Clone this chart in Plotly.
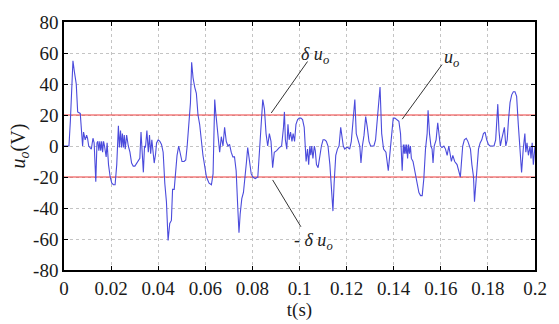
import plotly.graph_objects as go

# Output voltage trace u_o(t)
t_s = [
    0, 0.0015, 0.0021, 0.0027, 0.0033, 0.0038, 0.0044, 0.0052, 0.0058, 0.0069,
    0.0079, 0.0083, 0.009, 0.0096, 0.01, 0.0105, 0.0116, 0.0123, 0.0128, 0.0135,
    0.014, 0.0144, 0.0148, 0.0152, 0.0156, 0.016, 0.0164, 0.0168, 0.0172, 0.0179,
    0.0183, 0.0189, 0.0196, 0.0203, 0.021, 0.0217, 0.0224, 0.0231, 0.0235, 0.024,
    0.0244, 0.0248, 0.0252, 0.0256, 0.026, 0.0266, 0.0273, 0.028, 0.0287, 0.0294,
    0.0301, 0.0308, 0.0315, 0.0322, 0.0327, 0.0331, 0.0337, 0.0342, 0.0346, 0.0352,
    0.0358, 0.0363, 0.0368, 0.0373, 0.0379, 0.0383, 0.0389, 0.0393, 0.04, 0.0407,
    0.0414, 0.0421, 0.0428, 0.0435, 0.0442, 0.0449, 0.0456, 0.0461, 0.0468, 0.0473,
    0.048, 0.0487, 0.0494, 0.0501, 0.051, 0.0517, 0.0523, 0.053, 0.0537, 0.0542,
    0.0548, 0.0555, 0.0562, 0.0569, 0.0576, 0.059, 0.0605, 0.0616, 0.0626, 0.0633,
    0.064, 0.0644, 0.0654, 0.0661, 0.0668, 0.0675, 0.0682, 0.0689, 0.0696, 0.0703,
    0.071, 0.0717, 0.0724, 0.0731, 0.0738, 0.0743, 0.0748, 0.0755, 0.0762, 0.077,
    0.0775, 0.078, 0.0787, 0.0795, 0.0802, 0.0812, 0.0823, 0.083, 0.0837, 0.0844,
    0.0851, 0.0858, 0.0865, 0.0872, 0.0879, 0.0886, 0.0893, 0.0903, 0.0914, 0.0924,
    0.0932, 0.0936, 0.094, 0.0946, 0.0951, 0.0956, 0.0962, 0.0968, 0.0973, 0.0979,
    0.0985, 0.0992, 0.0999, 0.1006, 0.1013, 0.102, 0.1028, 0.1034, 0.1039, 0.1044,
    0.1048, 0.1052, 0.1057, 0.1063, 0.1067, 0.1072, 0.1079, 0.1086, 0.1093, 0.11,
    0.1107, 0.1114, 0.1121, 0.1129, 0.1136, 0.1142, 0.1147, 0.1154, 0.1161, 0.1168,
    0.1175, 0.1182, 0.1186, 0.1192, 0.1199, 0.1206, 0.1213, 0.122, 0.1228, 0.1235,
    0.1241, 0.1249, 0.1256, 0.1261, 0.1267, 0.1274, 0.1281, 0.1288, 0.1295, 0.1302,
    0.1316, 0.1323, 0.1333, 0.1342, 0.1349, 0.1357, 0.1367, 0.1373, 0.1377, 0.1382,
    0.139, 0.1398, 0.1405, 0.1415, 0.1422, 0.1429, 0.1436, 0.1441, 0.1445, 0.1448,
    0.1452, 0.1455, 0.1459, 0.1463, 0.1467, 0.1471, 0.1475, 0.1482, 0.1493, 0.15,
    0.1507, 0.1514, 0.1521, 0.1528, 0.1535, 0.1542, 0.1546, 0.1552, 0.1558, 0.1563,
    0.1567, 0.1572, 0.158, 0.1587, 0.1592, 0.1598, 0.1605, 0.1613, 0.162, 0.1627,
    0.1634, 0.1641, 0.1645, 0.1651, 0.1659, 0.1669, 0.1676, 0.1683, 0.1687, 0.1693,
    0.17, 0.1708, 0.1715, 0.1721, 0.1726, 0.1732, 0.1739, 0.1743, 0.1749, 0.1755,
    0.176, 0.1767, 0.1774, 0.1781, 0.1788, 0.1795, 0.1802, 0.1809, 0.1819, 0.1826,
    0.1833, 0.1838, 0.1842, 0.1847, 0.1853, 0.1858, 0.1864, 0.187, 0.1876, 0.1882,
    0.1887, 0.1894, 0.1901, 0.1908, 0.1915, 0.1922, 0.1929, 0.1936, 0.1943, 0.195,
    0.1957, 0.1961, 0.1966, 0.1972, 0.1979, 0.1983, 0.1988, 0.1993, 0.2,
]
u_o = [
    0, 0, 0, 16, 42, 55, 48, 40, 22, 21,
    0, 9, 4, 7, 5, 0, -2, 5, 2, -23,
    2, 3, -3, 3, -3, 3, -4, 3, 0, -7,
    2, -12, -20, -24, -25, -25, -12, 13, -1, 10,
    -1, 8, -1, 7, -2, 7, 0, -4, -11, -13,
    -13, -11, -10, -8, 9, 0, -17, 0, -1, 10,
    -4, 7, -5, 4, -6, -11, -5, 2, 4, 3,
    1, -4, -24, -36, -61, -50, -48, -28, -28, -16,
    -6, 0, -6, -10, -10, -9, 0, 14, 28, 54,
    44, 38, 34, 20, 14, -6, -20, -24, -25, -18,
    30, 22, 6, -4, 6, 0, 12, 3, 0, 1,
    -4, -7, -7, -16, -40, -56, -44, -34, -30, -14,
    -10, -1, -10, -18, -20, -21, -20, -2, 18, 30,
    24, 8, 0, 8, 3, -14, -4, -3, -1, 0,
    12, 22, 4, -2, 14, 4, 9, 3, 8, 3,
    14, 17, 18, 18, 17, 12, -10, -2, -12, 0,
    -6, 0, -8, 0, -3, -12, -14, -6, 0, 4,
    4, 3, 0, -12, -32, -42, -24, -6, -2, 0,
    12, 6, 0, -2, -1, -1, -2, 3, 18, 30,
    8, 3, 0, -11, 0, 7, 19, 12, 3, 0,
    0, 4, 20, 38, 8, -2, -4, -12, -16, -8,
    8, 18, 18, 17, 16, 8, -16, 1, -5, 1,
    -5, 1, -8, 1, -5, 0, -8, -10, -18, -24,
    -30, -32, -32, -21, -2, 8, 23, 8, 0, -2,
    -11, 0, 4, 15, 8, 0, -1, 0, -2, -6,
    0, -6, -10, -6, -10, -12, -16, -20, -12, 0,
    4, 5, 3, 0, -2, -12, -20, -36, -24, -6,
    -2, 2, 4, 8, 9, 4, 1, 0, 0, 0,
    4, 16, 27, 10, 0, 4, 8, 12, 0, 4,
    16, 28, 33, 35, 35, 32, 14, 0, -17, -2,
    8, -4, 2, -6, 0, -8, 2, -12, 0,
]

# Tolerance band +/- delta
delta = 20

x_ticks = [0, 0.02, 0.04, 0.06, 0.08, 0.1, 0.12, 0.14, 0.16, 0.18, 0.2]
x_labels = ["0", "0.02", "0.04", "0.06", "0.08", "0.1", "0.12", "0.14", "0.16", "0.18", "0.2"]
y_ticks = [-80, -60, -40, -20, 0, 20, 40, 60, 80]
y_labels = ["-80", "-60", "-40", "-20", "0", "20", "40", "60", "80"]

FONT = "Liberation Serif"

fig = go.Figure()

fig.add_trace(go.Scatter(
    x=[0, 0.2], y=[delta, delta], mode="lines",
    line=dict(color="#f03c3c", width=1.2), showlegend=False, hoverinfo="skip"))
fig.add_trace(go.Scatter(
    x=[0, 0.2], y=[-delta, -delta], mode="lines",
    line=dict(color="#f03c3c", width=1.2), showlegend=False, hoverinfo="skip"))
fig.add_trace(go.Scatter(
    x=t_s, y=u_o, mode="lines",
    line=dict(color="#4b4bdc", width=1.1), showlegend=False))

# Leader lines for the labels
leaders = [
    ((0.1034, 54.5), (0.0880, 21.3)),
    ((0.0886, -21.9), (0.1006, -52.1)),
    ((0.1605, 52.5), (0.1436, 17.3)),
]
for (x0, y0), (x1, y1) in leaders:
    fig.add_shape(type="line", xref="x", yref="y", x0=x0, y0=y0, x1=x1, y1=y1,
                  line=dict(color="#333333", width=1))

lab_font = dict(family=FONT, size=18, color="#222222")
fig.add_annotation(x=0.1067, y=58.6, xref="x", yref="y", showarrow=False,
                   text="<i>δ u<sub>o</sub></i>", font=lab_font)
fig.add_annotation(x=0.1058, y=-61.6, xref="x", yref="y", showarrow=False,
                   text="- <i>δ u<sub>o</sub></i>", font=lab_font)
fig.add_annotation(x=0.1646, y=56.2, xref="x", yref="y", showarrow=False,
                   text="<i>u<sub>o</sub></i>", font=lab_font)

axis_common = dict(
    showline=True, linecolor="black", linewidth=1.5, mirror="ticks",
    ticks="inside", ticklen=4, tickcolor="black",
    showgrid=True, gridcolor="#c4c4c4", gridwidth=1, griddash="dot",
    zeroline=False, tickfont=dict(family=FONT, size=19, color="#1a1a1a"),
)

fig.update_xaxes(range=[0, 0.2], tickvals=x_ticks, ticktext=x_labels,
                 title=dict(text="t(s)", font=dict(family=FONT, size=19, color="#1a1a1a"),
                            standoff=0),
                 **axis_common)
fig.update_yaxes(range=[-80, 80], tickvals=y_ticks, ticktext=y_labels,
                 title=dict(text="<i>u<sub>o</sub></i>(V)",
                            font=dict(family=FONT, size=20, color="#1a1a1a"), standoff=2),
                 **axis_common)

fig.update_layout(
    width=559, height=324, autosize=False,
    margin=dict(l=64, r=22, t=15, b=44),
    paper_bgcolor="white", plot_bgcolor="white",
    font=dict(family=FONT),
)

fig.write_html("out.html")
